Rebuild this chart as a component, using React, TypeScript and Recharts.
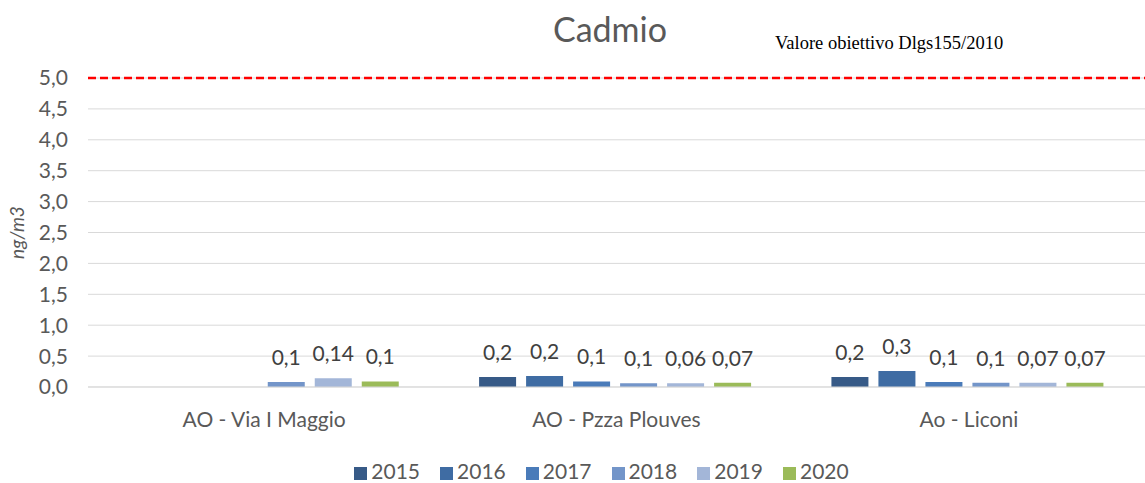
import React from 'react'
import {
    BarChart,
    Bar,
    XAxis,
    YAxis,
    CartesianGrid,
    Legend,
    ReferenceLine,
    LabelList,
} from 'recharts'

const stations = ['AO - Via I Maggio', 'AO - Pzza Plouves', 'Ao - Liconi']
const years = ['2015', '2016', '2017', '2018', '2019', '2020']
const colors = ['#375a87', '#3f6ca3', '#4a7bb9', '#7395c9', '#a3b6d8', '#9bbb59']

// measured values (bar heights)
const v2015 = [null, 0.16, 0.16]
const v2016 = [null, 0.18, 0.26]
const v2017 = [null, 0.09, 0.08]
const v2018 = [0.08, 0.06, 0.07]
const v2019 = [0.14, 0.06, 0.07]
const v2020 = [0.09, 0.07, 0.07]

// labels as printed on the chart
const l2015 = [null, '0,2', '0,2']
const l2016 = [null, '0,2', '0,3']
const l2017 = [null, '0,1', '0,1']
const l2018 = ['0,1', '0,1', '0,1']
const l2019 = ['0,14', '0,06', '0,07']
const l2020 = ['0,1', '0,07', '0,07']

const yTicks = [0, 0.5, 1, 1.5, 2, 2.5, 3, 3.5, 4, 4.5, 5]
const target = 5

const values = [v2015, v2016, v2017, v2018, v2019, v2020]
const labels = [l2015, l2016, l2017, l2018, l2019, l2020]

const data = stations.map((name, i) => {
    const row: any = { name }
    years.forEach((y, k) => {
        row['v' + y] = values[k][i]
        row['l' + y] = labels[k][i]
    })
    return row
})

const font = 'Lato, "Open Sans", sans-serif'

export default function App() {
    return (
        <div
            style={{
                position: 'absolute',
                left: 0,
                top: 0,
                width: 1145,
                height: 483,
                background: '#ffffff',
                fontFamily: font,
            }}
        >
            <div
                style={{
                    position: 'absolute',
                    left: 0,
                    width: 1220,
                    top: 8,
                    textAlign: 'center',
                    fontSize: 34,
                    color: '#595959',
                }}
            >
                Cadmio
            </div>
            <div
                style={{
                    position: 'absolute',
                    left: 775,
                    top: 33,
                    fontFamily: '"Liberation Serif", "Times New Roman", serif',
                    fontSize: 18.5,
                    color: '#000000',
                }}
            >
                Valore obiettivo Dlgs155/2010
            </div>
            <BarChart
                width={1145}
                height={483}
                data={data}
                margin={{ top: 78, right: 0, bottom: 0, left: 0 }}
                barCategoryGap="11%"
                barGap={10}
            >
                <CartesianGrid vertical={false} stroke="#d9d9d9" />
                <XAxis
                    dataKey="name"
                    axisLine={{ stroke: '#d9d9d9' }}
                    tickLine={false}
                    height={52}
                    tickMargin={19}
                    tick={{ fill: '#595959', fontSize: 21, fontFamily: font }}
                />
                <YAxis
                    domain={[0, 5]}
                    ticks={yTicks}
                    width={88}
                    axisLine={false}
                    tickLine={false}
                    tickMargin={14}
                    tickFormatter={(v: number) => v.toFixed(1).replace('.', ',')}
                    tick={{ fill: '#595959', fontSize: 21, fontFamily: font }}
                    label={{
                        value: 'ng/m3',
                        angle: -90,
                        position: 'insideLeft',
                        offset: 17,
                        style: {
                            fill: '#595959',
                            fontSize: 19,
                            fontStyle: 'italic',
                            fontFamily: font,
                            textAnchor: 'middle',
                        },
                    }}
                />
                <Legend
                    iconType="square"
                    iconSize={13}
                    wrapperStyle={{
                        fontSize: 21,
                        fontFamily: font,
                        paddingTop: 19,
                        paddingLeft: 78,
                        boxSizing: 'border-box',
                    }}
                    formatter={(value: string) => (
                        <span style={{ color: '#595959', marginRight: 10 }}>{value}</span>
                    )}
                />
                {years.map((y, k) => (
                    <Bar
                        key={y}
                        dataKey={'v' + y}
                        name={y}
                        fill={colors[k]}
                        isAnimationActive={false}
                    >
                        <LabelList
                            dataKey={'l' + y}
                            position="top"
                            offset={17}
                            style={{ fill: '#404040', fontSize: 21, fontFamily: font }}
                        />
                    </Bar>
                ))}
                <ReferenceLine
                    y={target}
                    stroke="#ff0000"
                    strokeWidth={2.5}
                    strokeDasharray="8 4"
                />
            </BarChart>
        </div>
    )
}
